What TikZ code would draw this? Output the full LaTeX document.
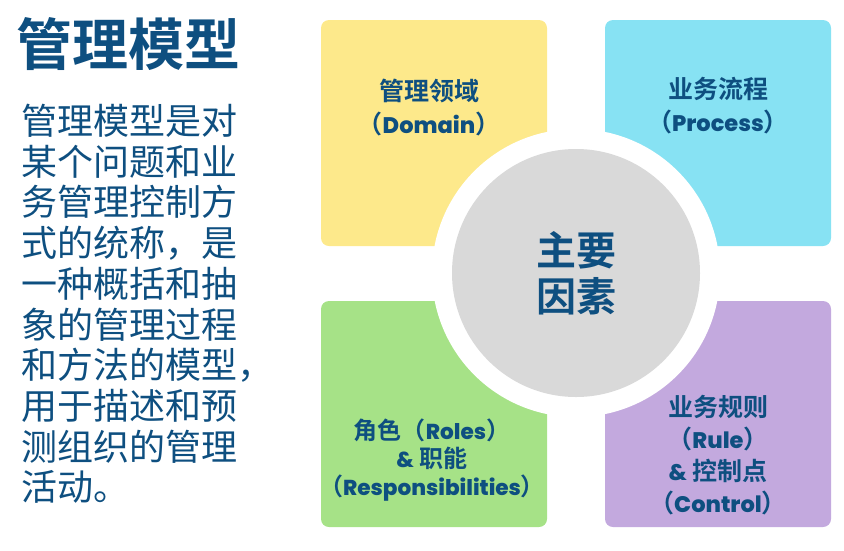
\documentclass[tikz,border=0pt]{standalone}
\usepackage{fontspec}
\setmainfont{Noto Sans CJK SC}[BoldFont={Noto Sans CJK SC Bold}]
\newfontfamily\latfont{Poppins}[Scale=0.9, BoldFont={Poppins ExtraBold}]
\newcommand{\lat}[1]{{\latfont #1}}
\definecolor{inkblue}{HTML}{0E4F80}
\definecolor{domainyellow}{HTML}{FDE98B}
\definecolor{processcyan}{HTML}{87E2F3}
\definecolor{rolegreen}{HTML}{A6E287}
\definecolor{rulepurple}{HTML}{C3A9DE}
\definecolor{coregray}{HTML}{D9D9D9}
\tikzset{
    quad/.style={rectangle, rounded corners=8pt, minimum width=226pt,
                 minimum height=226pt, inner sep=0pt},
    quadtext/.style={text=inkblue, align=center, inner sep=0pt,
                     font=\bfseries\fontsize{25}{33}\selectfont},
    ring/.style={circle, fill=white, minimum size=288pt, inner sep=0pt},
    core/.style={circle, fill=coregray, minimum size=248pt, inner sep=0pt,
                 text=inkblue, align=center,
                 font=\bfseries\fontsize{40}{46}\selectfont},
}

\begin{document}
\begin{tikzpicture}[x=1pt, y=-1pt]
    \path[use as bounding box] (0,0) rectangle (844,550);

    % heading and description
    \node[anchor=west, inner sep=0pt, text=inkblue,
          font=\bfseries\fontsize{56}{56}\selectfont] (title) at (16,44) {管理模型};
    \node[anchor=north west, inner sep=0pt, text=inkblue, align=left,
          font=\fontsize{36}{40.7}\selectfont] (desc) at (21,104)
        {管理模型是对\\某个问题和业\\务管理控制方\\式的统称，是\\一种概括和抽\\象的管理过程\\和方法的模型，\\用于描述和预\\测组织的管理\\活动。};

    % the four factors
    \node[quad, fill=domainyellow] (domain) at (434,133) {};
    \node[quad, fill=processcyan] (process) at (718,133) {};
    \node[quad, fill=rolegreen] (roles) at (434,414) {};
    \node[quad, fill=rulepurple] (rule) at (718,414) {};

    \node[quadtext] (domaintext) at (429,108) {管理领域\\（\lat{Domain}）};
    \node[quadtext] (processtext) at (718,106) {业务流程\\（\lat{Process}）};
    \node[quadtext, font=\bfseries\fontsize{24}{28}\selectfont] (rolestext) at (432,460)
        {角色（\lat{Roles}）\\\lat{\&} 职能\\（\lat{Responsibilities}）};
    \node[quadtext, font=\bfseries\fontsize{25}{32}\selectfont] (ruletext) at (718,455)
        {业务规则\\（\lat{Rule}）\\\lat{\&} 控制点\\（\lat{Control}）};

    % centre
    \node[ring] (gap) at (576,273) {};
    \node[core] (centre) at (gap.center) {主要\\因素};

\end{tikzpicture}
\end{document}
